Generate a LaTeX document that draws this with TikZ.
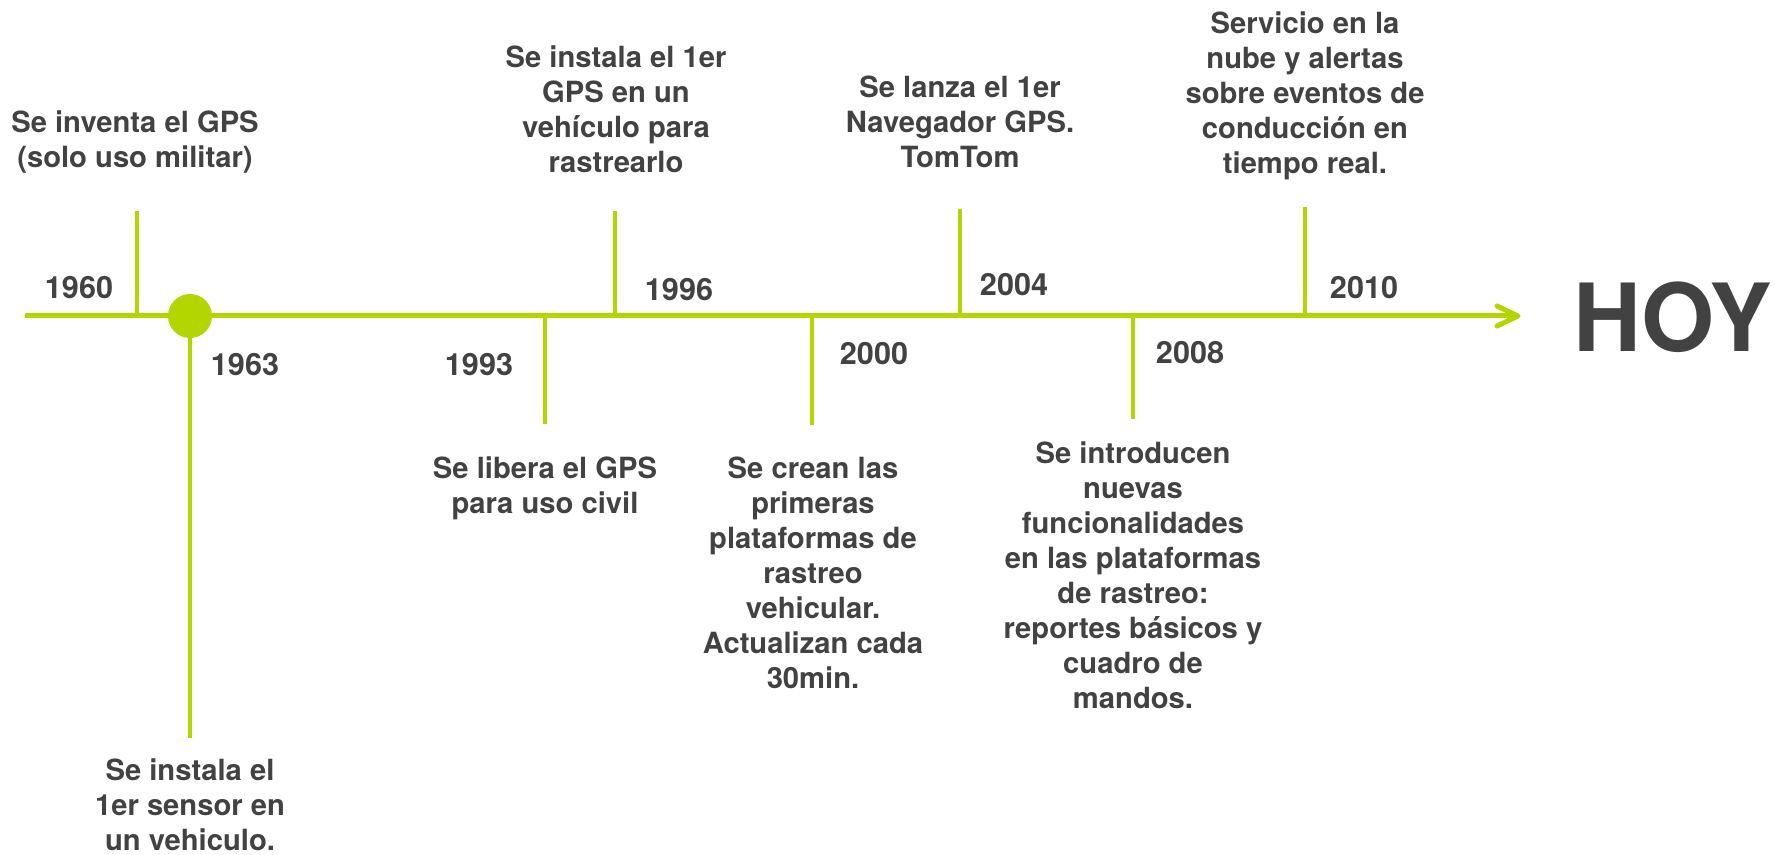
\documentclass[tikz,border=0pt]{standalone}
\usepackage{fontspec}
\setmainfont{TeX Gyre Heros}
\definecolor{lime}{HTML}{B4D600}
\definecolor{ink}{HTML}{424242}
\begin{document}
\begin{tikzpicture}[x=0.5pt,y=-0.5pt,
  axisline/.style={draw=lime, line width=2.5pt},
  ticker/.style={draw=lime, line width=2.2pt},
  yearlbl/.style={font=\fontsize{15.3}{18}\selectfont\bfseries, text=ink, inner sep=0pt},
  event/.style={font=\fontsize{14.6}{17.5}\selectfont\bfseries, text=ink, align=center, inner sep=0pt, anchor=north},
]
\useasboundingbox (0,0) rectangle (1787,855);

% axis end points
\coordinate (start) at (25,316);
\coordinate (tip) at (1518,316);

% tick end points
\coordinate (t1960) at (137,211);
\coordinate (t1963) at (190,738);
\coordinate (t1993) at (545,424);
\coordinate (t1996) at (615,211);
\coordinate (t2000) at (812,425);
\coordinate (t2004) at (960,209);
\coordinate (t2008) at (1133,419);
\coordinate (t2010) at (1305,207);

% ticks
\foreach \t in {t1960,t1963,t1993,t1996,t2000,t2004,t2008,t2010}
  \draw[ticker] (\t) -- (\t |- start);

% main axis with open arrow head
\draw[axisline] (start) -- ([xshift=-1pt]tip);
\draw[axisline, line cap=round, line join=round] (tip) ++(-21,-10) -- (tip) -- ++(-21,10);

% dot
\node[circle, fill=lime, minimum size=22pt, inner sep=0pt] (dot) at (190,316) {};

% years
\node[yearlbl] (y1960) at (79,288) {1960};
\node[yearlbl] (y1963) at (245,365) {1963};
\node[yearlbl] (y1993) at (479,365) {1993};
\node[yearlbl] (y1996) at (679,290) {1996};
\node[yearlbl] (y2000) at (874,354) {2000};
\node[yearlbl] (y2004) at (1014,285) {2004};
\node[yearlbl] (y2008) at (1190,353) {2008};
\node[yearlbl] (y2010) at (1364,288) {2010};

\node[font=\fontsize{47}{50}\selectfont\bfseries, text=ink, inner sep=0pt] (hoy) at (1673,317) {HOY};

% events
\node[event] (e1960) at (135,110) {Se inventa el GPS\\(solo uso militar)};
\node[event] (e1963) at (190,758) {Se instala el\\1er sensor en\\un vehiculo.};
\node[event] (e1993) at (545,456) {Se libera el GPS\\para uso civil};
\node[event] (e1996) at (616,45) {Se instala el 1er\\GPS en un\\vehículo para\\rastrearlo};
\node[event] (e2000) at (813,456) {Se crean las\\primeras\\plataformas de\\rastreo\\vehicular.\\Actualizan cada\\30min.};
\node[event] (e2004) at (960,75) {Se lanza el 1er\\Navegador GPS.\\TomTom};
\node[event] (e2008) at (1133,441) {Se introducen\\nuevas\\funcionalidades\\en las plataformas\\de rastreo:\\reportes básicos y\\cuadro de\\mandos.};
\node[event] (e2010) at (1305,11) {Servicio en la\\nube y alertas\\sobre eventos de\\conducción en\\tiempo real.};
\end{tikzpicture}
\end{document}
